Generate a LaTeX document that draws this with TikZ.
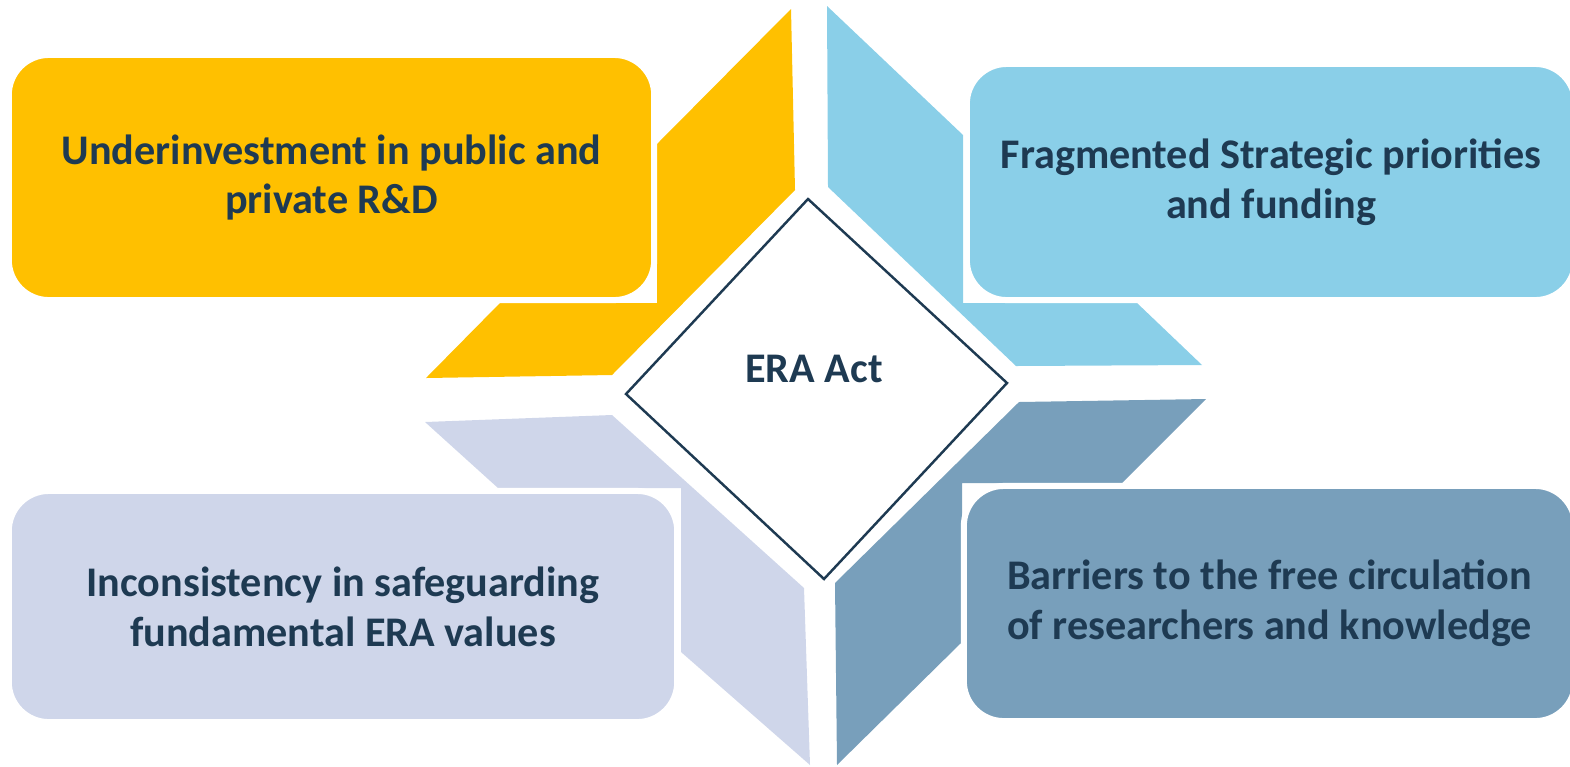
\documentclass[tikz,border=0pt]{standalone}
\usepackage{fontspec}
\setmainfont{Carlito}
\definecolor{eraYellow}{HTML}{FFC000}
\definecolor{eraSky}{HTML}{8ACFE8}
\definecolor{eraLilac}{HTML}{CFD6EA}
\definecolor{eraSteel}{HTML}{789FBB}
\definecolor{eraNavy}{HTML}{1E3A52}

\begin{document}
\begin{tikzpicture}[x=0.01cm,y=-0.01cm,
	box/.style={rounded corners=0.4cm, draw=white, line width=0.06cm, align=center,
		text=eraNavy, font=\fontsize{12}{14.2}\selectfont\bfseries, inner sep=0pt},
	]
	\useasboundingbox (0,0) rectangle (1570,766);
	% chevrons behind the boxes
	\fill[eraYellow] (791,9) -- (795,190) -- (612,375) -- (426,378) -- (500,303) -- (657,303) -- (657,144) -- cycle;
	\fill[eraSky] (827,6) -- (828,187) -- (1016,366) -- (1202,365) -- (1137,303) -- (963,303) -- (963,135) -- cycle;
	\fill[eraLilac] (425,422) -- (612,415) -- (804,588) -- (810,765) -- (681,652) -- (681,488) -- (498,488) -- cycle;
	\fill[eraSteel] (1019,402) -- (1206,399) -- (1122,483) -- (962,483) -- (962,642) -- (837,765) -- (835,583) -- cycle;
	% boxes
	\node[box, fill=eraYellow, minimum width=6.45cm, minimum height=2.45cm] (underinv) at (331.5,177.5)
		{Underinvestment in public and\\private R\&D};
	\node[box, fill=eraSky, minimum width=6.08cm, minimum height=2.36cm] (fragm) at (1271,182)
		{Fragmented Strategic priorities\\and funding};
	\node[box, fill=eraLilac, minimum width=6.68cm, minimum height=2.31cm] (inconsist) at (343,606.5)
		{Inconsistency in safeguarding\\fundamental ERA values};
	\node[box, fill=eraSteel, minimum width=6.11cm, minimum height=2.35cm] (barriers) at (1269.5,603.5)
		{Barriers to the free circulation\\of researchers and knowledge};
	% centre
	\draw[eraNavy, line width=0.7pt] (808,199) -- (1007,383) -- (824,579) -- (626,394) -- cycle;
	\node[text=eraNavy, font=\fontsize{12}{14.2}\selectfont\bfseries] (era) at (814,369) {ERA Act};
\end{tikzpicture}
\end{document}
